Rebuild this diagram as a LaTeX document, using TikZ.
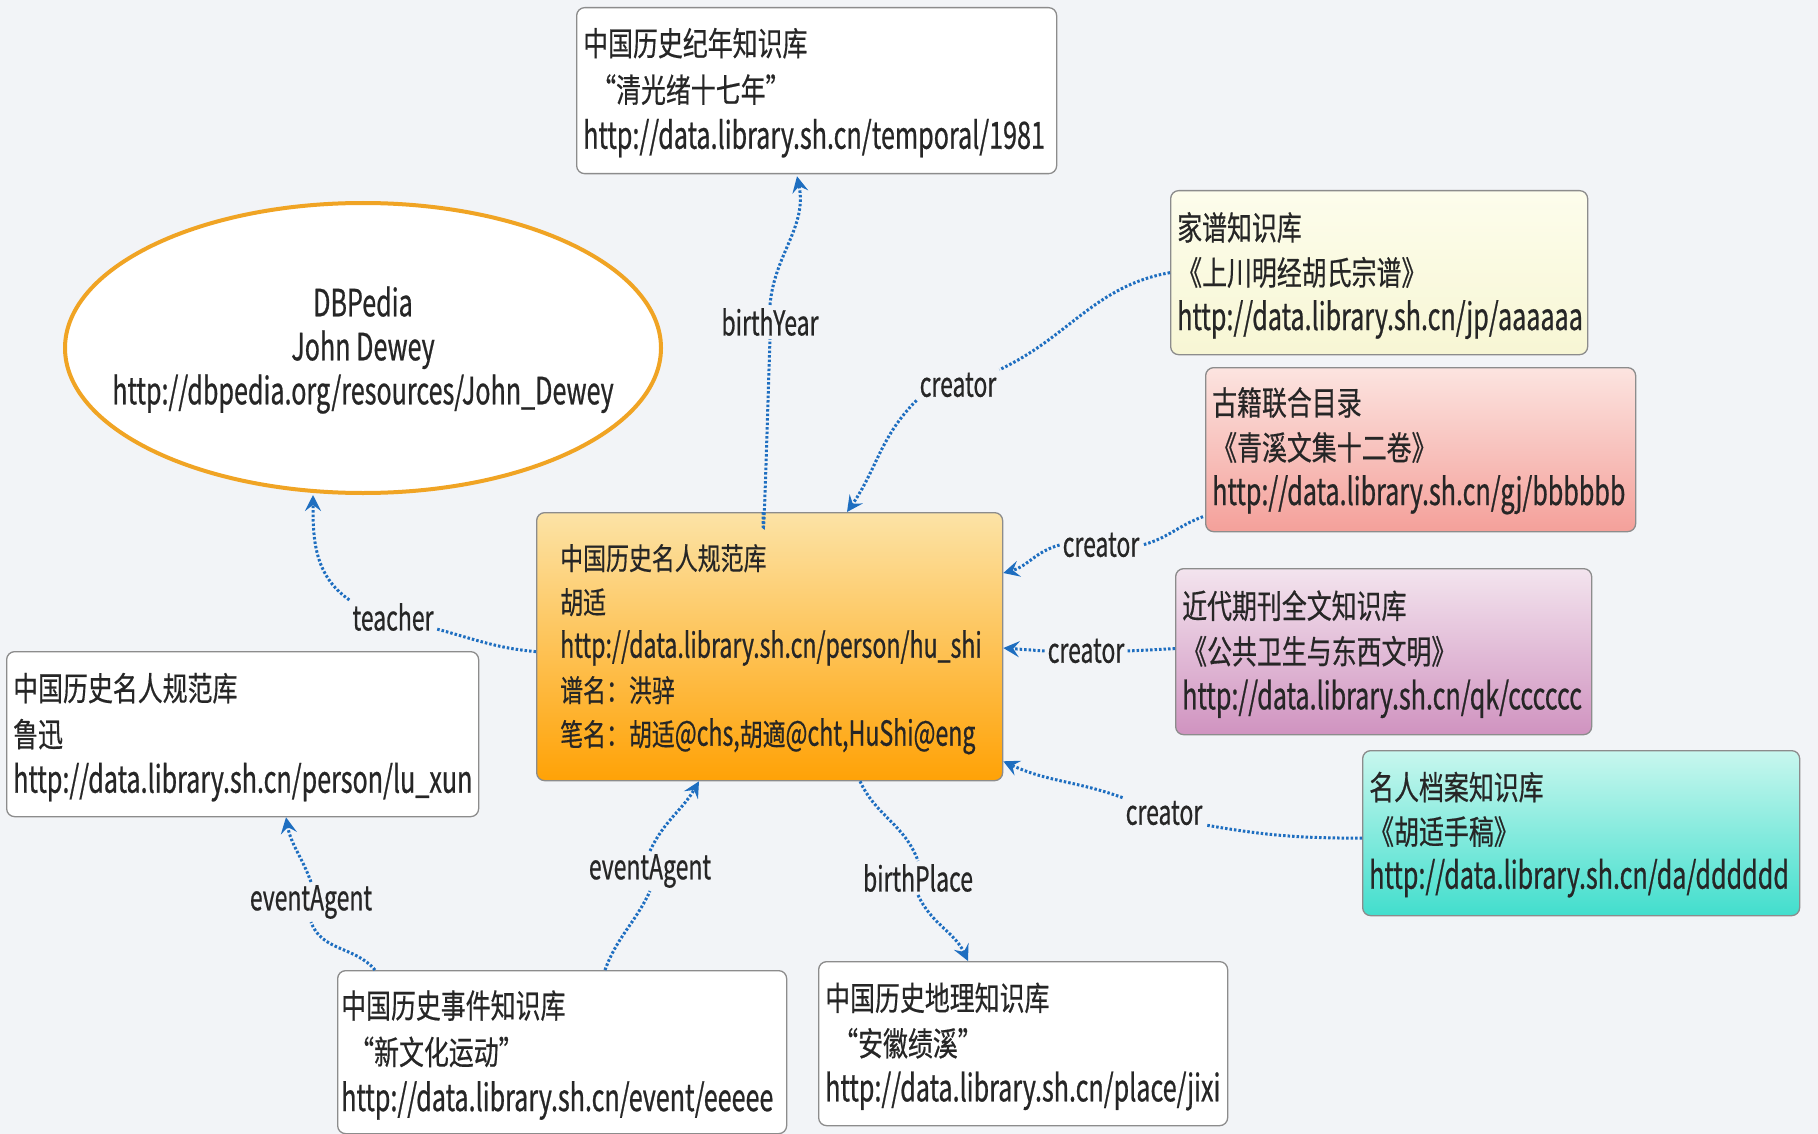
\documentclass[tikz,border=0pt]{standalone}
\usepackage{fontspec}
\setmainfont{Noto Sans CJK SC}[FakeStretch=0.67, FakeBold=0.6]
\newfontfamily\cjk{Noto Sans CJK SC}[FakeStretch=0.755, Scale=0.88, FakeBold=0.5]
\usetikzlibrary{arrows.meta,calc,shapes.geometric}
\definecolor{bg}{HTML}{F2F4F7}
\definecolor{boxgray}{HTML}{8C8C8C}
\definecolor{txtc}{HTML}{262626}
\definecolor{blu}{HTML}{1E6EC0}
\definecolor{ellc}{HTML}{F0A424}
\definecolor{cenT}{HTML}{FCE3A6}
\definecolor{cenB}{HTML}{FFA206}
\definecolor{jpT}{HTML}{FDFDEC}
\definecolor{jpB}{HTML}{F7F6D4}
\definecolor{gjT}{HTML}{FCE4E0}
\definecolor{gjB}{HTML}{F4A09A}
\definecolor{qkT}{HTML}{F3E4EE}
\definecolor{qkB}{HTML}{D093C0}
\definecolor{daT}{HTML}{C8F7EE}
\definecolor{daB}{HTML}{42DECD}
\begin{document}
\begin{tikzpicture}[x=1pt,y=-1pt,
  box/.style={draw=boxgray, line width=1.3pt, rounded corners=8pt, anchor=north west, inner sep=0pt},
  txt/.style={anchor=north west, inner sep=0pt, align=left, font=\fontsize{37.5}{#1}\selectfont, text=txtc},
  txt/.default=45.5,
  lbl/.style={inner sep=3pt, font=\fontsize{34.3}{38}\selectfont, text=txtc},
  conn/.style={draw=blu, line width=3pt, dash pattern=on 2.5pt off 2pt},
  arr/.style={-{Stealth[length=16pt,width=16pt,inset=6pt]}}]
\fill[bg] (0,0) rectangle (1818,1134);
\useasboundingbox (0,0) rectangle (1818,1134);
% boxes
\node[box, fill=white, minimum width=480pt, minimum height=166pt] (tmp) at (576,7) {};
\node[box, top color=jpT, bottom color=jpB, minimum width=417pt, minimum height=164pt] (jp) at (1170,190) {};
\node[box, top color=gjT, bottom color=gjB, minimum width=430pt, minimum height=164pt] (gj) at (1205,367) {};
\node[box, top color=qkT, bottom color=qkB, minimum width=416pt, minimum height=166pt] (qk) at (1175,568) {};
\node[box, top color=daT, bottom color=daB, minimum width=437pt, minimum height=165pt] (da) at (1362,750) {};
\node[box, top color=cenT, bottom color=cenB, minimum width=466pt, minimum height=268pt] (cen) at (536,512) {};
\node[box, fill=white, minimum width=472pt, minimum height=165pt] (lx) at (6,651) {};
\node[box, fill=white, minimum width=449pt, minimum height=163pt] (ev) at (337,970) {};
\node[box, fill=white, minimum width=409pt, minimum height=164pt] (pl) at (818,961) {};
\node[ellipse, draw=ellc, line width=4pt, fill=white, minimum width=596pt, minimum height=290pt, inner sep=0pt] (dbp) at (363,348) {};
% texts
\node[txt=46.5] (tmpT) at (583,23) {\strut{\cjk 中国历史纪年知识库}\\{\cjk \hspace*{8pt}“清光绪十七年”}\\http://data.library.sh.cn/temporal/1981};
\node[txt=45] (jpT) at (1177,208.3) {\strut{\cjk 家谱知识库}\\{\cjk 《上川明经胡氏宗谱》}\\http://data.library.sh.cn/jp/aaaaaa};
\node[txt=45] (gjT) at (1212,383.3) {\strut{\cjk 古籍联合目录}\\{\cjk 《青溪文集十二卷》}\\http://data.library.sh.cn/gj/bbbbbb};
\node[txt=45.5] (qkT) at (1182,586.3) {\strut{\cjk 近代期刊全文知识库}\\{\cjk 《公共卫生与东西文明》}\\http://data.library.sh.cn/qk/cccccc};
\node[txt=44.5] (daT) at (1369,768.3) {\strut{\cjk 名人档案知识库}\\{\cjk 《胡适手稿》}\\http://data.library.sh.cn/da/dddddd};
\node[txt, font=\fontsize{34.5}{44}\selectfont] (cenTx) at (560,538.7) {\strut{\cjk 中国历史名人规范库}\\{\cjk 胡适}\\http://data.library.sh.cn/person/hu\_shi\\{\cjk 谱名：洪骍}\\{\cjk 笔名：胡适}@chs,{\cjk 胡適}@cht,HuShi@eng};
\node[txt=46] (lxT) at (13,668.3) {\strut{\cjk 中国历史名人规范库}\\{\cjk 鲁迅}\\http://data.library.sh.cn/person/lu\_xun};
\node[txt=46.5] (evT) at (341,985.3) {\strut{\cjk 中国历史事件知识库}\\{\cjk \hspace*{8pt}“新文化运动”}\\http://data.library.sh.cn/event/eeeee};
\node[txt=45.5] (plT) at (825,978.3) {\strut{\cjk 中国历史地理知识库}\\{\cjk \hspace*{8pt}“安徽绩溪”}\\http://data.library.sh.cn/place/jixi};
\node[txt, anchor=north, align=center, font=\fontsize{37.5}{44}\selectfont] (dbpT) at (363,285.3) {\strut DBPedia\\John Dewey\\http://dbpedia.org/resources/John\_Dewey};
% labels
\node[lbl] (lby) at (770,322) {birthYear};
\node[lbl] (lcj) at (958,385) {creator};
\node[lbl] (lcg) at (1101,545) {creator};
\node[lbl] (lcq) at (1086,651) {creator};
\node[lbl] (lcd) at (1164,813) {creator};
\node[lbl] (lte) at (393,617) {teacher};
\node[lbl] (lel) at (311,902) {eventAgent};
\node[lbl] (lec) at (650,871) {eventAgent};
\node[lbl] (lbp) at (918,878) {birthPlace};
% connectors
\draw[conn] ($(cen.north west)+(227,0)$) to[out=-90,in=-92] (lby.south);
\draw[conn,arr] (lby.north) to[out=85,in=-78] ($(tmp.south west)+(221,2)$);
\draw[conn] (jp.west) to[out=190,in=25] (lcj.north east);
\draw[conn,arr] (lcj.south west) to[out=225,in=55] ($(cen.north west)+(311,0)$);
\draw[conn] ($(gj.west)+(-2,67)$) to[out=200,in=15] (lcg.east);
\draw[conn,arr] (lcg.west) to[out=195,in=15] ($(cen.north east)+(0,61)$);
\draw[conn] ($(qk.west)+(0,-3)$) -- (lcq.east);
\draw[conn,arr] (lcq.west) -- ($(cen.north east)+(0,136)$);
\draw[conn] ($(da.west)+(0,5)$) to[out=180,in=-10] ($(lcd.east)+(0,12)$);
\draw[conn,arr] (lcd.north west) to[out=160,in=-25] ($(cen.south east)+(0,-20)$);
\draw[conn] ($(cen.west)+(0,5)$) to[out=175,in=-15] ($(lte.east)+(0,12)$);
\draw[conn,arr] (lte.north west) to[out=145,in=-90] ($(dbp.center)+(-50,147)$);
\draw[conn] ($(ev.north west)+(38,0)$) to[out=130,in=-70] (lel.south);
\draw[conn,arr] (lel.north) to[out=110,in=-80] ($(lx.south west)+(280,0)$);
\draw[conn] ($(ev.north west)+(268,0)$) to[out=70,in=-115] (lec.south);
\draw[conn,arr] (lec.north) to[out=65,in=-120] ($(cen.south west)+(163,0)$);
\draw[conn] ($(cen.south west)+(324,0)$) to[out=-65,in=110] (lbp.north);
\draw[conn,arr] (lbp.south) to[out=-65,in=115] ($(pl.north west)+(150,0)$);
\end{tikzpicture}
\end{document}
